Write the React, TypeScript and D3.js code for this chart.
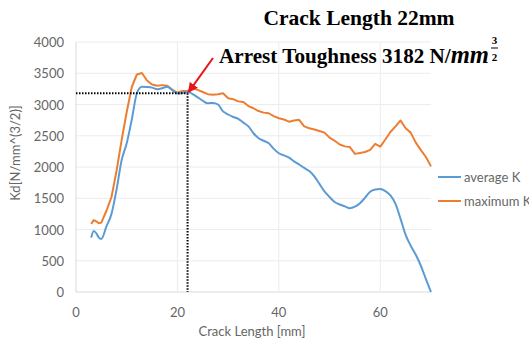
import React from "react";
import * as d3 from "d3";

// crack length [mm]
const crackLength = [
  3, 3.5, 4, 4.5, 5, 6, 7, 8, 9, 10, 11, 12, 13, 14, 15, 16, 17, 18, 19, 20,
  21, 22, 23, 24, 25, 26, 27, 28, 29, 30, 31, 32, 33, 34, 35, 36, 37, 38, 39,
  40, 41, 42, 43, 44, 45, 46, 47, 48, 49, 50, 51, 52, 53, 54, 55, 56, 57, 58,
  59, 60, 61, 62, 63, 64, 65, 66, 67, 68, 69, 70,
];

const averageK = [
  870, 975, 940, 870, 850, 1050, 1250, 1640, 2110, 2380, 2760, 3180, 3285,
  3280, 3270, 3245, 3260, 3285, 3230, 3175, 3185, 3205, 3165, 3115, 3060,
  3020, 3025, 3000, 2890, 2840, 2800, 2770, 2710, 2650, 2540, 2460, 2420,
  2380, 2290, 2220, 2185, 2150, 2090, 2040, 1985, 1935, 1850, 1730, 1610,
  1520, 1440, 1400, 1370, 1340, 1365, 1420, 1510, 1605, 1640, 1648, 1615,
  1545, 1410, 1170, 915, 740, 595, 420, 205, 0,
];

const maximumK = [
  1090, 1150, 1130, 1100, 1110, 1300, 1520, 1940, 2430, 2880, 3280, 3480,
  3505, 3385, 3320, 3300, 3310, 3300, 3235, 3190, 3215, 3220, 3255, 3235,
  3200, 3165, 3155, 3165, 3180, 3100, 3085, 3050, 3040, 2975, 2940, 2895,
  2870, 2860, 2815, 2780, 2760, 2725, 2745, 2755, 2650, 2620, 2600, 2575,
  2550, 2470, 2420, 2360, 2330, 2320, 2210, 2225, 2240, 2275, 2370, 2325,
  2440, 2560, 2650, 2745, 2620, 2550, 2390, 2270, 2160, 2010,
];

const xTicks = [0, 20, 40, 60];
const yTicks = [0, 500, 1000, 1500, 2000, 2500, 3000, 3500, 4000];

const arrestLength = 22;
const arrestK = 3182;

const seriesNames = ["average K", "maximum K"];
const seriesColors = ["#5B9BD5", "#ED7D31"];

const labelFont = "Lato, 'Open Sans', sans-serif";
const titleFont = "'Liberation Serif', 'Times New Roman', serif";

export default function App() {
  const width = 529;
  const height = 342;

  const x = d3.scaleLinear().domain([0, 70]).range([76, 431]);
  const y = d3.scaleLinear().domain([0, 4000]).range([292, 42]);

  const avgLine = d3
    .line<number>()
    .x((d, i) => x(crackLength[i]))
    .y(d => y(d))
    .curve(d3.curveMonotoneX);

  const maxLine = d3
    .line<number>()
    .x((d, i) => x(crackLength[i]))
    .y(d => y(d))
    .curve(d3.curveLinear);

  return (
    <svg
      width={width}
      height={height}
      style={{ position: "absolute", left: 0, top: 0, background: "#fff" }}
    >
      <defs>
        <marker
          id="arrowhead"
          viewBox="0 0 10 10"
          refX="9"
          refY="5"
          markerWidth="5"
          markerHeight="5"
          orient="auto"
        >
          <path d="M0,0 L10,5 L0,10 z" fill="#e8141b" />
        </marker>
      </defs>

      {/* gridlines */}
      {yTicks.map(t => (
        <line
          key={"gy" + t}
          x1={x(0)}
          x2={x(70)}
          y1={y(t)}
          y2={y(t)}
          stroke={t === 0 ? "#d9d9d9" : "#ececec"}
          strokeWidth={1}
        />
      ))}
      {xTicks.map(t => (
        <line
          key={"gx" + t}
          x1={x(t)}
          x2={x(t)}
          y1={y(0)}
          y2={y(4000)}
          stroke={t === 0 ? "#d9d9d9" : "#ececec"}
          strokeWidth={1}
        />
      ))}

      {/* tick labels */}
      {yTicks.map(t => (
        <text
          key={"ty" + t}
          x={64}
          y={y(t) + 5}
          textAnchor="end"
          fontFamily={labelFont}
          fontSize={13}
          fill="#666"
        >
          {t}
        </text>
      ))}
      {xTicks.map(t => (
        <text
          key={"tx" + t}
          x={x(t)}
          y={317}
          textAnchor="middle"
          fontFamily={labelFont}
          fontSize={13}
          fill="#666"
        >
          {t}
        </text>
      ))}

      {/* axis titles */}
      <text
        x={252}
        y={336}
        textAnchor="middle"
        fontFamily={labelFont}
        fontSize={13}
        fill="#666"
      >
        Crack Length [mm]
      </text>
      <text
        transform="translate(20,153) rotate(-90)"
        textAnchor="middle"
        fontFamily={labelFont}
        fontSize={13}
        fill="#666"
      >
        Kd[N/mm^(3/2)]
      </text>

      {/* series */}
      <path
        d={maxLine(maximumK) || ""}
        fill="none"
        stroke={seriesColors[1]}
        strokeWidth={2}
        strokeLinejoin="round"
      />
      <path
        d={avgLine(averageK) || ""}
        fill="none"
        stroke={seriesColors[0]}
        strokeWidth={2}
        strokeLinejoin="round"
      />

      {/* arrest point guides */}
      <line
        x1={x(0)}
        x2={x(arrestLength)}
        y1={y(arrestK)}
        y2={y(arrestK)}
        stroke="#000"
        strokeWidth={2}
        strokeDasharray="1.5,1.5"
      />
      <line
        x1={x(arrestLength)}
        x2={x(arrestLength)}
        y1={y(arrestK)}
        y2={y(0)}
        stroke="#000"
        strokeWidth={2}
        strokeDasharray="1.5,1.5"
      />

      {/* red arrow */}
      <line
        x1={213}
        y1={58}
        x2={x(arrestLength) + 1}
        y2={y(arrestK) - 1}
        stroke="#e8141b"
        strokeWidth={2}
        markerEnd="url(#arrowhead)"
      />

      {/* annotations */}
      <text
        x={359}
        y={25}
        textAnchor="middle"
        fontFamily={titleFont}
        fontWeight="bold"
        fontSize={21.5}
        fill="#000"
      >
        Crack Length 22mm
      </text>
      <text
        x={219}
        y={63}
        fontFamily={titleFont}
        fontWeight="bold"
        fontSize={21.5}
        fill="#000"
        textLength={270}
        lengthAdjust="spacingAndGlyphs"
      >
        Arrest Toughness 3182 N/
        <tspan fontStyle="italic" fontSize={25}>mm</tspan>
      </text>
      <text
        x={494.5}
        y={44}
        textAnchor="middle"
        fontFamily={titleFont}
        fontWeight="bold"
        fontSize={11}
      >
        3
      </text>
      <line x1={491} x2={498} y1={48} y2={48} stroke="#000" strokeWidth={1} />
      <text
        x={494.5}
        y={61}
        textAnchor="middle"
        fontFamily={titleFont}
        fontWeight="bold"
        fontSize={11}
      >
        2
      </text>

      {/* legend */}
      {seriesNames.map((name, i) => (
        <g key={name} transform={`translate(438,${177 + i * 24})`}>
          <line x1={0} x2={23} y1={0} y2={0} stroke={seriesColors[i]} strokeWidth={2} />
          <text
            x={26}
            y={5}
            fontFamily={labelFont}
            fontSize={13}
            fill="#666"
          >
            {name}
          </text>
        </g>
      ))}
    </svg>
  );
}
